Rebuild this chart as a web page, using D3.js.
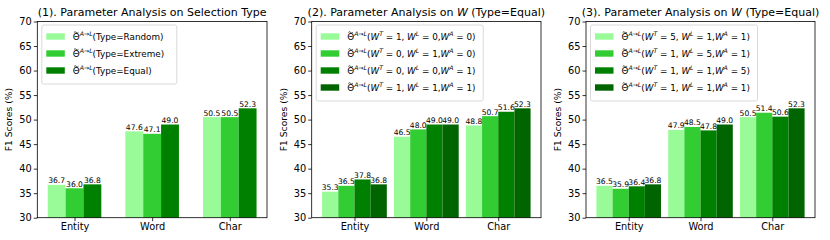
<!DOCTYPE html>
<html>
<head>
<meta charset="utf-8">
<script src="https://cdn.jsdelivr.net/npm/d3@7"></script>
<style>
  body { margin: 0; background: #fff; }
  svg { font-family: "DejaVu Sans", sans-serif; }
</style>
</head>
<body>
<svg width="830" height="240"></svg>
<script>
'use strict'

const categories = ['Entity', 'Word', 'Char'];
const yTicks = [30, 35, 40, 45, 50, 55, 60, 65, 70];

// panel 1: selection type
const p1Values = [
  [36.7, 47.6, 50.5],   // Random
  [36.0, 47.1, 50.5],   // Extreme
  [36.8, 49.0, 52.3]    // Equal
];
const p1Labels = ['Type=Random', 'Type=Extreme', 'Type=Equal'];

// panel 2: W on / off
const p2Values = [
  [35.3, 46.5, 48.8],
  [36.5, 48.0, 50.7],
  [37.8, 49.0, 51.6],
  [36.8, 49.0, 52.3]
];
const p2Weights = [[1, 0, 0], [0, 1, 0], [0, 0, 1], [1, 1, 1]];

// panel 3: W = 5 variants
const p3Values = [
  [36.5, 47.9, 50.5],
  [35.9, 48.5, 51.4],
  [36.4, 47.8, 50.6],
  [36.8, 49.0, 52.3]
];
const p3Weights = [[5, 1, 1], [1, 5, 1], [1, 1, 5], [1, 1, 1]];

const colors = ['#98fb98', '#32cd32', '#008000', '#006400'];

const svg = d3.select('svg');

// legend label segments: [text, kind]  n = normal, i = italic, s = superscript
function typeLabel(t) {
  return [['Θ', 'n'], ['A→L', 's'], ['(' + t + ')', 'n']];
}
function weightLabel(w) {
  return [['Θ', 'n'], ['A→L', 's'], ['(', 'n'],
    ['W', 'i'], ['T', 's'], [' = ' + w[0] + ', ', 'n'],
    ['W', 'i'], ['L', 's'], [' = ' + w[1] + ',', 'n'],
    ['W', 'i'], ['A', 's'], [' = ' + w[2] + ')', 'n']];
}

function drawPanel(opt) {
  const g = svg.append('g');
  const n = opt.values.length;
  const groupW = n === 3 ? 0.69 : 0.9;
  const half = groupW / 2;
  const margin = (2 + groupW) * 0.05;

  const x = d3.scaleLinear()
    .domain([-half - margin, 2 + half + margin])
    .range([opt.left, opt.right]);
  const y = d3.scaleLinear().domain([30, 70]).range([217.7, 21.5]);
  const bw = groupW / n;

  opt.values.forEach((series, s) => {
    const bars = series.map((v, i) => ({ v, x0: i - half + s * bw }));
    g.selectAll(null).data(bars).join('rect')
      .attr('x', d => x(d.x0))
      .attr('width', d => x(d.x0 + bw) - x(d.x0))
      .attr('y', d => y(d.v))
      .attr('height', d => y(30) - y(d.v))
      .attr('fill', colors[s]);
    g.selectAll(null).data(bars).join('text')
      .attr('x', d => x(d.x0 + bw / 2))
      .attr('y', d => y(d.v) - 1.5)
      .attr('text-anchor', 'middle')
      .attr('font-size', 7.6)
      .text(d => d.v.toFixed(1));
  });

  // axes
  const yAxis = g.append('g')
    .attr('transform', `translate(${opt.left},0)`)
    .call(d3.axisLeft(y).tickValues(yTicks).tickSize(3.5).tickPadding(2));
  const xAxis = g.append('g')
    .attr('transform', `translate(0,${y(30)})`)
    .call(d3.axisBottom(x).tickValues([0, 1, 2]).tickFormat(i => categories[i]).tickSize(3.5).tickPadding(2));
  [yAxis, xAxis].forEach(a => {
    a.select('.domain').remove();
    a.selectAll('line').attr('stroke', '#000').attr('stroke-width', 0.8);
    a.selectAll('text').attr('font-size', 9.8).attr('fill', '#000')
      .attr('font-family', '"DejaVu Sans", sans-serif');
  });
  g.append('rect')
    .attr('x', opt.left).attr('y', y(70))
    .attr('width', opt.right - opt.left).attr('height', y(30) - y(70))
    .attr('fill', 'none').attr('stroke', '#000').attr('stroke-width', 0.8);

  // y label
  g.append('text')
    .attr('transform', `translate(${opt.left - 25},${(y(30) + y(70)) / 2}) rotate(-90)`)
    .attr('text-anchor', 'middle')
    .attr('font-size', 9.2)
    .text('F1 Scores (%)');

  // title
  const title = g.append('text')
    .attr('x', (opt.left + opt.right) / 2)
    .attr('y', 15.5)
    .attr('text-anchor', 'middle')
    .attr('font-size', 11);
  opt.title.forEach(([t, k]) => {
    title.append('tspan').attr('font-style', k === 'i' ? 'italic' : null).text(t);
  });

  // legend
  const lx = opt.left + 4.5, ly = 25;
  const lw = opt.legendW, lh = 8 + n * 17;
  g.append('rect')
    .attr('x', lx).attr('y', ly).attr('width', lw).attr('height', lh)
    .attr('rx', 2).attr('fill', '#fff').attr('fill-opacity', 0.8)
    .attr('stroke', '#d0d0d0').attr('stroke-width', 0.8);
  opt.labels.forEach((segs, s) => {
    const cy = ly + 11.5 + s * 17;
    g.append('rect')
      .attr('x', lx + 4.5).attr('y', cy - 3.2)
      .attr('width', 18.5).attr('height', 6.4)
      .attr('fill', colors[s]);
    const tx = lx + 31;
    const t = g.append('text')
      .attr('x', tx).attr('y', cy + 3.2)
      .attr('font-size', 8.8);
    // tilde over the theta, drawn as a small wave
    const cx = tx + 3.4, ty = cy - 4.6;
    g.append('path')
      .attr('d', `M${cx - 2.2},${ty + 0.5} q1.1,-1.3 2.2,0 t2.2,0`)
      .attr('fill', 'none').attr('stroke', '#000').attr('stroke-width', 0.7);
    let up = false;
    segs.forEach(([str, k]) => {
      const sp = t.append('tspan').text(str);
      if (k === 's') {
        sp.attr('font-size', 6.2).attr('font-style', 'italic').attr('dy', up ? 0 : -3.6);
        up = true;
      } else {
        if (k === 'i') sp.attr('font-style', 'italic');
        if (up) { sp.attr('dy', 3.6); up = false; }
      }
    });
  });
}

drawPanel({
  left: 37.3, right: 267,
  values: p1Values,
  labels: p1Labels.map(typeLabel),
  legendW: 135,
  title: [['(1). Parameter Analysis on Selection Type', 'n']]
});
drawPanel({
  left: 311.7, right: 541,
  values: p2Values,
  labels: p2Weights.map(weightLabel),
  legendW: 167,
  title: [['(2). Parameter Analysis on ', 'n'], ['W', 'i'], [' (Type=Equal)', 'n']]
});
drawPanel({
  left: 586, right: 815,
  values: p3Values,
  labels: p3Weights.map(weightLabel),
  legendW: 167,
  title: [['(3). Parameter Analysis on ', 'n'], ['W', 'i'], [' (Type=Equal)', 'n']]
});
</script>
</body>
</html>
